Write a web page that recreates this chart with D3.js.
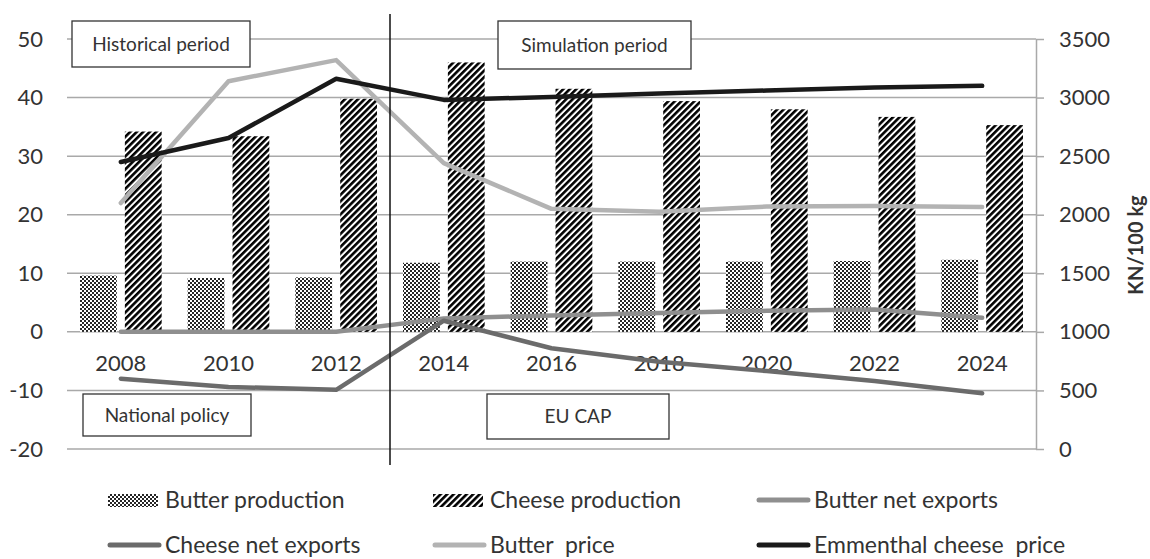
<!DOCTYPE html>
<html>
<head>
<meta charset="utf-8">
<script src="https://cdn.jsdelivr.net/npm/d3@7"></script>
<style>
  body { margin: 0; background: #fff; overflow: hidden; }
  svg { display: block; }
  svg text { font-family: Lato, "Open Sans", sans-serif; fill: #333; }
</style>
</head>
<body>
<div class="view1"></div>
<script>
// Data
const years = ["2008", "2010", "2012", "2014", "2016", "2018", "2020", "2022", "2024"];
const butterProduction = [9.6, 9.2, 9.3, 11.8, 12.0, 12.0, 12.0, 12.1, 12.3];
const cheeseProduction = [34.2, 33.4, 39.8, 46.0, 41.5, 39.4, 38.0, 36.7, 35.3];
const butterNetExports = [0, 0, 0, 2.3, 2.8, 3.2, 3.6, 3.8, 2.4];
const cheeseNetExports = [-8.0, -9.4, -9.9, 1.9, -2.8, -5.1, -6.7, -8.4, -10.5];
const butterPrice = [2100, 3140, 3320, 2440, 2050, 2025, 2070, 2075, 2066];
const emmenthalPrice = [2450, 2655, 3160, 2980, 3005, 3035, 3060, 3085, 3100];

const leftTicks = [-20, -10, 0, 10, 20, 30, 40, 50];
const rightTicks = [0, 500, 1000, 1500, 2000, 2500, 3000, 3500];

const legendNames = ["Butter production", "Cheese production", "Butter net exports",
                     "Cheese net exports", "Butter  price", "Emmenthal cheese  price"];

// Layout
const width = 1150, height = 559;
const plot = {left: 67, right: 1036, top: 39, bottom: 449};

let svg = d3.select(".view1").append("svg")
    .attr("width", width)
    .attr("height", height);

// patterns
let defs = svg.append("defs");
let checker = defs.append("pattern")
    .attr("id", "checker")
    .attr("patternUnits", "userSpaceOnUse")
    .attr("width", 4).attr("height", 4);
checker.append("rect").attr("width", 4).attr("height", 4).attr("fill", "#fff");
checker.append("rect").attr("width", 2).attr("height", 2).attr("fill", "#262626");
checker.append("rect").attr("x", 2).attr("y", 2).attr("width", 2).attr("height", 2).attr("fill", "#262626");

let stripes = defs.append("pattern")
    .attr("id", "stripes")
    .attr("patternUnits", "userSpaceOnUse")
    .attr("width", 4.6).attr("height", 4.6)
    .attr("patternTransform", "rotate(45)");
stripes.append("rect").attr("width", 4.6).attr("height", 4.6).attr("fill", "#fff");
stripes.append("rect").attr("width", 2.6).attr("height", 4.6).attr("fill", "#000");

// scales
let x = d3.scaleBand().domain(years).range([plot.left, plot.right]).padding(0);
let xSub = d3.scaleBand().domain(["butter", "cheese"]).range([0, x.bandwidth()])
    .paddingInner(0.18).paddingOuter(0.29);
let yL = d3.scaleLinear().domain([-20, 50]).range([plot.bottom, plot.top]);
let yR = d3.scaleLinear().domain([0, 3500]).range([plot.bottom, plot.top]);

// gridlines
svg.append("g").attr("class", "grid")
    .selectAll("line")
    .data(leftTicks)
    .join("line")
    .attr("x1", plot.left).attr("x2", plot.right)
    .attr("y1", d => yL(d)).attr("y2", d => yL(d))
    .attr("stroke", "#a9a9a9").attr("stroke-width", 1.5);

// left axis labels (plain hyphen for negatives, as in the source)
let leftAxis = svg.append("g")
    .attr("transform", "translate(" + plot.left + ",0)")
    .call(d3.axisLeft(yL).tickValues(leftTicks).tickFormat(d => String(d))
        .tickSize(0).tickPadding(24));
leftAxis.select(".domain").remove();
leftAxis.selectAll("text").style("font-size", "22px").attr("fill", "#333");

// right axis
let rightAxis = svg.append("g")
    .attr("transform", "translate(" + plot.right + ",0)")
    .call(d3.axisRight(yR).tickValues(rightTicks).tickFormat(d => String(d))
        .tickSize(8).tickSizeOuter(0).tickPadding(15));
rightAxis.select(".domain").attr("stroke", "#a9a9a9").attr("stroke-width", 1.5);
rightAxis.selectAll("line").attr("stroke", "#a9a9a9").attr("stroke-width", 1.5);
rightAxis.selectAll("text").style("font-size", "22px").attr("fill", "#333");

svg.append("text")
    .attr("transform", "translate(1143,245) rotate(-90)")
    .attr("text-anchor", "middle")
    .style("font-size", "20px")
    .style("font-weight", "bold")
    .attr("fill", "#222")
    .text("KN/100 kg");

// category labels sit under the zero line
let xAxis = svg.append("g")
    .attr("transform", "translate(0," + yL(0) + ")")
    .call(d3.axisBottom(x).tickSize(0).tickPadding(24));
xAxis.select(".domain").remove();
xAxis.selectAll("text").style("font-size", "22px").attr("fill", "#333");

// bars
let barLayer = svg.append("g").attr("class", "bars");
barLayer.selectAll("rect.butter")
    .data(years)
    .join("rect")
    .attr("class", "butter")
    .attr("x", (d) => x(d) + xSub("butter"))
    .attr("width", xSub.bandwidth())
    .attr("y", (d, i) => yL(butterProduction[i]))
    .attr("height", (d, i) => yL(0) - yL(butterProduction[i]))
    .attr("fill", "url(#checker)");
barLayer.selectAll("rect.cheese")
    .data(years)
    .join("rect")
    .attr("class", "cheese")
    .attr("x", (d) => x(d) + xSub("cheese"))
    .attr("width", xSub.bandwidth())
    .attr("y", (d, i) => yL(cheeseProduction[i]))
    .attr("height", (d, i) => yL(0) - yL(cheeseProduction[i]))
    .attr("fill", "url(#stripes)");

// lines
let cx = d => x(d) + x.bandwidth() / 2;
let series = [
    {values: butterNetExports, scale: yL, color: "#8f8f8f"},
    {values: cheeseNetExports, scale: yL, color: "#6b6b6b"},
    {values: butterPrice, scale: yR, color: "#b3b3b3"},
    {values: emmenthalPrice, scale: yR, color: "#1a1a1a"}
];
let lineLayer = svg.append("g").attr("class", "lines");
series.forEach(s => {
    let line = d3.line()
        .x((d, i) => cx(years[i]))
        .y(d => s.scale(d));
    lineLayer.append("path")
        .datum(s.values)
        .attr("d", line)
        .attr("fill", "none")
        .attr("stroke", s.color)
        .attr("stroke-width", 4.5)
        .attr("stroke-linejoin", "round")
        .attr("stroke-linecap", "round");
});

// period divider between 2012 and 2014
svg.append("line")
    .attr("x1", x("2014")).attr("x2", x("2014"))
    .attr("y1", 14).attr("y2", 465)
    .attr("stroke", "#111").attr("stroke-width", 1.5);

// annotation boxes
let boxes = [
    {label: "Historical period", x: 72, y: 21, w: 178, h: 46},
    {label: "Simulation period", x: 498, y: 21, w: 193, h: 48},
    {label: "National policy", x: 83, y: 394, w: 168, h: 42},
    {label: "EU CAP", x: 487, y: 394, w: 182, h: 45}
];
let boxLayer = svg.append("g").attr("class", "boxes");
let bx = boxLayer.selectAll("g").data(boxes).join("g")
    .attr("transform", d => "translate(" + d.x + "," + d.y + ")");
bx.append("rect")
    .attr("width", d => d.w).attr("height", d => d.h)
    .attr("fill", "#fff").attr("stroke", "#333").attr("stroke-width", 1.3);
bx.append("text")
    .attr("x", d => d.w / 2).attr("y", d => d.h / 2)
    .attr("dy", "0.35em")
    .attr("text-anchor", "middle")
    .style("font-size", "19px")
    .text(d => d.label);

// legend
let legendCols = [108, 433, 757];
let legendRows = [500, 545];
let legendColors = [null, null, "#8f8f8f", "#6b6b6b", "#b3b3b3", "#1a1a1a"];
let legend = svg.append("g").attr("class", "legend")
    .selectAll("g")
    .data(legendNames)
    .join("g")
    .attr("transform", (d, i) => "translate(" + legendCols[i % 3] + "," + legendRows[Math.floor(i / 3)] + ")");
legend.each(function (d, i) {
    let g = d3.select(this);
    if (i < 2) {
        g.append("rect")
            .attr("x", 0).attr("y", -6)
            .attr("width", 50).attr("height", 13)
            .attr("fill", i == 0 ? "url(#checker)" : "url(#stripes)");
    } else {
        g.append("line")
            .attr("x1", 2).attr("x2", 51)
            .attr("y1", 0).attr("y2", 0)
            .attr("stroke", legendColors[i])
            .attr("stroke-width", 5)
            .attr("stroke-linecap", "round");
    }
    g.append("text")
        .attr("x", 57).attr("y", 0)
        .attr("dy", "0.33em")
        .style("font-size", "23px")
        .style("white-space", "pre")
        .attr("xml:space", "preserve")
        .text(d);
});
</script>
</body>
</html>
